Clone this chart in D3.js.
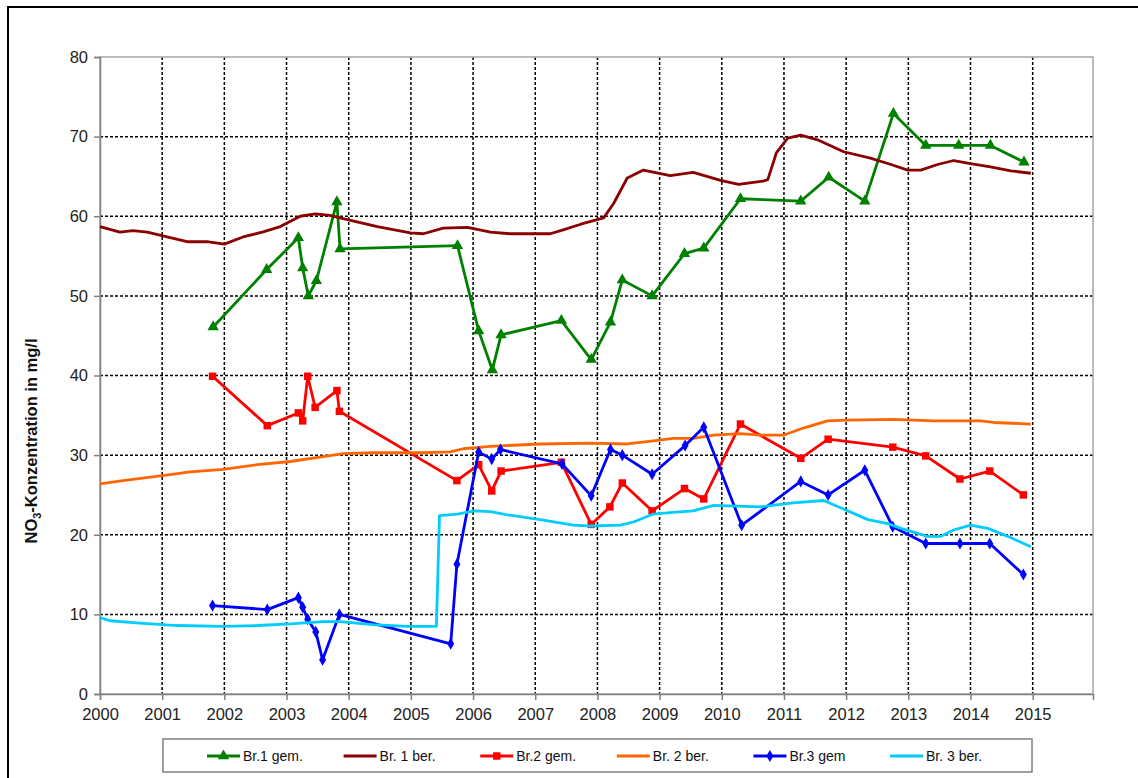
<!DOCTYPE html>
<html>
<head>
<meta charset="utf-8">
<style>
html, body { margin: 0; padding: 0; background: #fff; }
svg { display: block; font-family: "Liberation Sans", Arial, sans-serif; }
.grid line { stroke: #000; stroke-width: 1.5; stroke-dasharray: 3,2; }
.tick text { fill: #222; font-size: 16.5px; }
.series { fill: none; stroke-width: 2.8; stroke-linejoin: round; }
</style>
</head>
<body>
<script src="https://cdn.jsdelivr.net/npm/d3@7"></script>
<script>
var width = 1138
var height = 778

// NO3 measured (gem.) and calculated (ber.) per well, [year, mg/l]
var br1gem = [[2001.82,46.1],[2002.68,53.3],[2003.19,57.3],[2003.26,53.5],[2003.35,50.0],[2003.48,51.9],
  [2003.81,61.8],[2003.86,55.9],[2005.75,56.3],[2006.09,45.6],[2006.31,40.7],[2006.45,45.1],[2007.42,46.9],
  [2007.90,42.0],[2008.21,46.7],[2008.40,52.0],[2008.88,50.0],[2009.40,55.3],[2009.71,56.0],[2010.30,62.2],
  [2011.27,61.9],[2011.72,64.9],[2012.30,61.9],[2012.76,72.9],[2013.28,68.9],[2013.81,68.9],[2014.32,68.9],[2014.86,66.8]]

var br1ber = [[2000.00,58.7],[2000.32,58.0],[2000.53,58.2],[2000.76,58.0],[2001.08,57.4],[2001.40,56.8],
  [2001.72,56.8],[2002.00,56.5],[2002.30,57.4],[2002.61,58.0],[2002.90,58.7],[2003.22,60.0],[2003.46,60.3],
  [2003.70,60.1],[2003.91,59.7],[2004.46,58.7],[2004.99,57.9],[2005.20,57.8],[2005.52,58.5],[2005.91,58.6],
  [2006.28,58.0],[2006.60,57.8],[2007.24,57.8],[2007.45,58.3],[2007.73,59.0],[2008.10,59.8],[2008.26,61.6],
  [2008.48,64.8],[2008.74,65.8],[2009.17,65.1],[2009.54,65.5],[2009.98,64.5],[2010.27,64.0],[2010.66,64.4],
  [2010.74,64.6],[2010.88,68.0],[2011.06,69.8],[2011.27,70.2],[2011.54,69.6],[2011.96,68.1],[2012.39,67.3],
  [2012.72,66.5],[2012.99,65.8],[2013.20,65.8],[2013.47,66.5],[2013.73,67.0],[2014.00,66.6],[2014.32,66.2],
  [2014.65,65.7],[2014.97,65.4]]

var br2gem = [[2001.81,39.9],[2002.69,33.7],[2003.19,35.3],[2003.26,34.3],[2003.34,39.9],[2003.46,36.0],
  [2003.81,38.1],[2003.85,35.5],[2005.74,26.8],[2006.09,28.8],[2006.30,25.5],[2006.45,28.0],[2007.42,29.1],
  [2007.90,21.3],[2008.20,23.5],[2008.40,26.5],[2008.88,23.0],[2009.40,25.8],[2009.71,24.5],[2010.30,33.9],
  [2011.27,29.6],[2011.71,32.0],[2012.75,31.0],[2013.28,29.9],[2013.83,27.0],[2014.31,28.0],[2014.85,25.0]]

var br2ber = [[2000.00,26.4],[2000.37,26.8],[2000.97,27.4],[2001.45,27.9],[2001.98,28.2],[2002.53,28.8],
  [2003.06,29.2],[2003.59,29.8],[2003.91,30.2],[2004.39,30.3],[2005.20,30.3],[2005.63,30.4],[2005.84,30.8],
  [2006.28,31.1],[2007.08,31.4],[2007.89,31.5],[2008.48,31.4],[2008.90,31.8],[2009.22,32.1],[2009.54,32.1],
  [2009.87,32.5],[2010.30,32.7],[2010.62,32.5],[2010.99,32.5],[2011.31,33.4],[2011.70,34.3],[2012.02,34.4],
  [2012.76,34.5],[2013.41,34.3],[2014.16,34.3],[2014.37,34.1],[2014.97,33.9]]

var br3gem = [[2001.81,11.1],[2002.69,10.6],[2003.19,12.1],[2003.26,10.9],[2003.34,9.4],[2003.47,7.8],
  [2003.58,4.3],[2003.85,10.0],[2005.64,6.3],[2005.74,16.3],[2006.09,30.4],[2006.30,29.5],[2006.44,30.7],
  [2007.43,28.9],[2007.90,24.9],[2008.21,30.7],[2008.40,30.0],[2008.88,27.6],[2009.41,31.2],[2009.71,33.5],
  [2010.32,21.2],[2011.27,26.7],[2011.71,25.0],[2012.30,28.1],[2012.75,21.0],[2013.28,18.9],[2013.83,18.9],
  [2014.31,18.9],[2014.85,15.0]]

var br3ber = [[2000.00,9.6],[2000.16,9.2],[2000.64,8.9],[2001.24,8.6],[2001.98,8.5],[2002.53,8.6],
  [2003.06,8.8],[2003.59,9.1],[2003.86,9.1],[2004.39,8.7],[2004.94,8.5],[2005.41,8.5],[2005.46,22.4],
  [2005.75,22.6],[2006.02,23.0],[2006.28,22.9],[2006.55,22.5],[2007.08,21.9],[2007.61,21.2],[2007.89,21.1],
  [2008.37,21.2],[2008.58,21.6],[2008.90,22.6],[2009.22,22.8],[2009.54,23.0],[2009.87,23.7],[2010.62,23.5],
  [2011.15,24.0],[2011.64,24.3],[2011.91,23.4],[2012.35,21.9],[2012.67,21.4],[2012.88,20.8],[2013.31,19.8],
  [2013.52,19.8],[2013.73,20.6],[2014.00,21.2],[2014.28,20.8],[2014.60,19.8],[2014.97,18.5]]

var yearTicks = [2000,2001,2002,2003,2004,2005,2006,2007,2008,2009,2010,2011,2012,2013,2014,2015]
var valueTicks = [0,10,20,30,40,50,60,70,80]

var series = [
  { name: 'Br.1 gem.',  data: br1gem, color: '#008000', marker: 'triangle' },
  { name: 'Br. 1 ber.', data: br1ber, color: '#8b0000', marker: null },
  { name: 'Br.2 gem.',  data: br2gem, color: '#ff0000', marker: 'square' },
  { name: 'Br. 2 ber.', data: br2ber, color: '#ff6600', marker: null },
  { name: 'Br.3 gem',   data: br3gem, color: '#0000ff', marker: 'diamond' },
  { name: 'Br. 3 ber.', data: br3ber, color: '#00ccff', marker: null }
]

var margin = { left: 100, top: 57, right: 1093, bottom: 694 }

var x = d3.scaleLinear().domain([2000, 2015.97]).range([margin.left, margin.right])
var y = d3.scaleLinear().domain([0, 80]).range([margin.bottom, margin.top])

var svg = d3.select('body').append('svg')
    .attr('width', width)
    .attr('height', height)

// outer chart frame (open to the right and bottom, as cropped)
svg.append('rect')
    .attr('x', 8).attr('y', 7)
    .attr('width', width + 20).attr('height', height + 20)
    .attr('fill', '#fff').attr('stroke', '#000').attr('stroke-width', 2)

var grid = svg.append('g').attr('class', 'grid')
grid.selectAll('.gx').data(yearTicks.slice(1)).enter().append('line')
    .attr('x1', function (d) { return x(d) }).attr('x2', function (d) { return x(d) })
    .attr('y1', margin.top).attr('y2', margin.bottom)
grid.selectAll('.gy').data(valueTicks.slice(1, -1)).enter().append('line')
    .attr('x1', margin.left).attr('x2', margin.right)
    .attr('y1', function (d) { return y(d) }).attr('y2', function (d) { return y(d) })

// plot area border
svg.append('rect')
    .attr('x', margin.left).attr('y', margin.top)
    .attr('width', margin.right - margin.left).attr('height', margin.bottom - margin.top)
    .attr('fill', 'none').attr('stroke', '#a6a6a6').attr('stroke-width', 1.5)

var yAxis = svg.append('g')
    .attr('transform', 'translate(' + margin.left + ',0)')
    .call(d3.axisLeft(y).tickValues(valueTicks).tickSize(6).tickPadding(6))
yAxis.select('.domain').attr('stroke', '#808080').attr('stroke-width', 1.5)
yAxis.selectAll('.tick line').attr('stroke', '#808080').attr('stroke-width', 1.5)

var xAxis = svg.append('g')
    .attr('transform', 'translate(0,' + margin.bottom + ')')
    .call(d3.axisBottom(x).tickValues(yearTicks).tickFormat(d3.format('d')).tickSize(6).tickPadding(8))
xAxis.select('.domain').attr('stroke', '#808080').attr('stroke-width', 1.5)
xAxis.selectAll('.tick line').attr('stroke', '#808080').attr('stroke-width', 1.5)

svg.selectAll('.tick text').attr('font-family', '"Liberation Sans", Arial, sans-serif')

var line = d3.line()
    .x(function (d) { return x(d[0]) })
    .y(function (d) { return y(d[1]) })

var symbols = {
  triangle: d3.symbol().type(d3.symbolTriangle).size(56),
  square: d3.symbol().type(d3.symbolSquare).size(56),
  diamond: d3.symbol().type(d3.symbolDiamond).size(42)
}

series.forEach(function (s) {
  var g = svg.append('g')
  g.append('path')
      .attr('class', 'series')
      .attr('stroke', s.color)
      .attr('d', line(s.data))
  if (s.marker) {
    g.selectAll('path.m').data(s.data).enter().append('path')
        .attr('class', 'm')
        .attr('d', symbols[s.marker])
        .attr('fill', s.color)
        .attr('transform', function (d) { return 'translate(' + x(d[0]) + ',' + y(d[1]) + ')' })
  }
})

// y axis title
var title = svg.append('text')
    .attr('transform', 'translate(37,' + 441 + ') rotate(-90)')
    .attr('text-anchor', 'middle')
    .attr('font-size', 16.5)
    .attr('font-weight', 'bold')
    .attr('fill', '#111')
title.append('tspan').text('NO')
title.append('tspan').attr('font-size', 11).attr('dy', 4).text('3')
title.append('tspan').attr('dy', -4).text('-Konzentration in mg/l')

// legend
var legend = svg.append('g')
legend.append('rect')
    .attr('x', 163).attr('y', 739)
    .attr('width', 869).attr('height', 33)
    .attr('fill', '#fff').attr('stroke', '#808080').attr('stroke-width', 1.5)

var lx = d3.scaleLinear().domain([0, 5]).range([207, 890])
series.forEach(function (s, i) {
  var item = legend.append('g').attr('transform', 'translate(' + lx(i) + ',756)')
  item.append('line')
      .attr('x1', 0).attr('x2', 33)
      .attr('stroke', s.color).attr('stroke-width', 2.8)
  if (s.marker) {
    item.append('path')
        .attr('d', symbols[s.marker])
        .attr('fill', s.color)
        .attr('transform', 'translate(16.5,0)')
  }
  item.append('text')
      .attr('x', 36).attr('y', 5)
      .attr('font-size', 14)
      .attr('fill', '#111')
      .text(s.name)
})
</script>
</body>
</html>
